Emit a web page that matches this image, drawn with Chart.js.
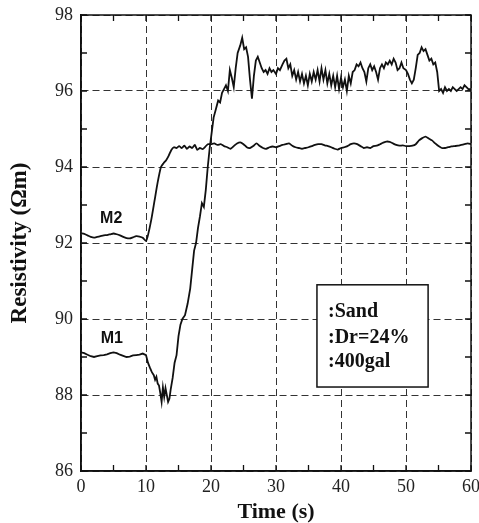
<!DOCTYPE html>
<html>
<head>
<meta charset="utf-8">
<script src="https://cdn.jsdelivr.net/npm/chart.js@4/dist/chart.umd.min.js"></script>
<style>
  html, body { margin: 0; padding: 0; background: #fff; }
  #c { display: block; }
</style>
</head>
<body>
<canvas id="c" width="479" height="523"></canvas>
<script>
// ---- data ----
const m1Time = [0,0.5,1,1.5,2,2.5,3,3.5,4,4.5,5,5.5,6,6.5,7,7.5,8,8.5,9,9.5,10,
  10.3,10.6,10.9,11.2,11.4,11.6,11.8,12.0,12.2,12.4,12.6,12.8,13.0,13.2,13.4,13.6,13.8,
  14.1,14.4,14.7,15.0,15.3,15.6,16.0,16.4,16.8,17.1,17.4,17.7,18.0,18.3,18.6,18.9,19.2,19.5,19.8,
  20.1,20.4,20.8,21.1,21.4,21.7,22.0,22.3,22.6,22.9,23.2,23.5,23.8,24.1,24.5,24.8,25.1,25.4,25.7,
  26.0,26.3,26.6,26.9,27.2,27.5,27.8,28.1,28.4,28.7,29.0,29.3,29.6,30.0,30.3,30.6,31.0,31.3,31.6,
  31.9,32.2,32.5,32.8,33.1,33.4,33.7,34.0,34.3,34.6,34.9,35.2,35.5,35.8,36.1,36.4,36.7,37.0,37.3,
  37.6,37.9,38.2,38.5,38.8,39.1,39.4,39.7,40.0,40.3,40.6,40.9,41.2,41.5,41.8,42.1,42.4,42.7,43.0,
  43.3,43.6,43.9,44.2,44.5,44.8,45.1,45.4,45.7,46.0,46.3,46.6,46.9,47.2,47.5,47.8,48.1,48.4,48.7,
  49.0,49.3,49.6,50.0,50.3,50.6,50.9,51.2,51.5,51.8,52.1,52.4,52.7,53.0,53.3,53.6,53.9,54.2,54.5,
  54.8,55.1,55.4,55.7,56.0,56.3,56.6,56.9,57.2,57.5,57.8,58.1,58.4,58.7,59.0,59.3,59.6,60.0];
const m1Value = [89.12,89.10,89.06,89.02,89.00,89.02,89.04,89.05,89.07,89.10,89.12,89.10,89.06,89.03,89.00,89.01,89.04,89.05,89.06,89.09,89.05,
  88.85,88.72,88.60,88.52,88.40,88.48,88.30,88.25,88.05,87.82,88.20,87.95,88.18,88.00,87.82,87.90,88.15,
  88.45,88.85,89.05,89.55,89.85,90.00,90.10,90.40,90.80,91.30,91.80,92.00,92.40,92.70,93.05,92.95,93.40,94.00,94.50,
  94.90,95.30,95.55,95.75,95.70,95.95,96.05,96.15,96.00,96.55,96.35,96.10,96.60,97.00,97.20,97.40,97.10,97.15,96.90,
  96.30,95.80,96.40,96.80,96.90,96.75,96.60,96.50,96.55,96.45,96.60,96.50,96.55,96.45,96.60,96.55,96.70,96.80,96.85,
  96.60,96.70,96.40,96.55,96.30,96.50,96.25,96.45,96.20,96.40,96.15,96.45,96.25,96.50,96.30,96.55,96.25,96.60,96.30,
  96.55,96.20,96.45,96.15,96.40,96.10,96.40,96.05,96.35,96.10,96.30,96.00,96.40,96.20,96.50,96.55,96.70,96.65,96.75,
  96.60,96.50,96.25,96.60,96.70,96.55,96.65,96.50,96.30,96.60,96.70,96.60,96.75,96.70,96.80,96.70,96.85,96.75,96.55,
  96.60,96.75,96.60,96.55,96.45,96.30,96.20,96.30,96.60,96.95,97.00,97.15,97.05,97.10,96.95,96.80,96.85,96.70,96.75,
  96.50,96.00,96.05,95.95,96.10,96.00,96.05,96.00,96.10,96.05,96.00,96.05,96.10,96.05,96.15,96.10,96.05,96.05];

const m2Time = [0,0.5,1,1.5,2,2.5,3,3.5,4,4.5,5,5.5,6,6.5,7,7.5,8,8.5,9,9.5,10,
  10.3,10.8,11.3,11.8,12.3,12.7,13.1,13.5,13.9,14.3,14.7,15.1,15.5,15.9,16.3,16.7,17.1,17.5,17.9,18.3,18.7,19.1,19.5,
  20,20.5,21,21.5,22,22.5,23,23.5,24,24.5,25,25.5,26,26.5,27,27.5,28,28.5,29,29.5,30,30.5,31,31.5,32,32.5,33,33.5,
  34,34.5,35,35.5,36,36.5,37,37.5,38,38.5,39,39.5,40,40.5,41,41.5,42,42.5,43,43.5,44,44.5,45,45.5,46,46.5,47,47.5,
  48,48.5,49,49.5,50,50.5,51,51.5,52,52.5,53,53.5,54,54.5,55,55.5,56,56.5,57,57.5,58,58.5,59,59.5,60];
const m2Value = [92.26,92.24,92.20,92.16,92.14,92.16,92.18,92.20,92.21,92.23,92.25,92.23,92.20,92.16,92.13,92.12,92.15,92.18,92.17,92.14,92.05,
  92.20,92.60,93.10,93.60,94.00,94.10,94.18,94.30,94.45,94.52,94.50,94.55,94.50,94.56,94.48,94.54,94.50,94.58,94.45,94.50,94.47,94.53,94.60,
  94.60,94.62,94.58,94.60,94.55,94.52,94.48,94.55,94.62,94.65,94.60,94.52,94.50,94.55,94.62,94.55,94.50,94.48,94.52,94.54,94.52,94.55,94.58,94.60,94.62,94.56,94.52,94.50,
  94.48,94.50,94.52,94.55,94.58,94.60,94.60,94.57,94.55,94.52,94.48,94.46,94.50,94.52,94.55,94.60,94.62,94.60,94.55,94.50,94.52,94.50,94.55,94.56,94.60,94.64,94.67,94.66,
  94.62,94.58,94.56,94.57,94.55,94.55,94.56,94.60,94.70,94.76,94.80,94.75,94.70,94.62,94.55,94.50,94.50,94.52,94.54,94.55,94.56,94.58,94.60,94.62,94.60];

const xTickValues = [0,10,20,30,40,50,60];
const yTickValues = [86,88,90,92,94,96,98];
const xMinorTicks = [0,5,10,15,20,25,30,35,40,45,50,55,60];
const yMinorTicks = [86,87,88,89,90,91,92,93,94,95,96,97,98];

const seriesLabels = [
  { text: 'M2', x: 4.65, y: 92.64 },
  { text: 'M1', x: 4.75, y: 89.48 }
];
const legendLines = [':Sand', ':Dr=24%', ':400gal'];
const legendBox = { x0: 36.3, x1: 53.4, y0: 90.9, y1: 88.21, textX: 38.0, lineY: [90.18, 89.50, 88.87] };

// ---- chart ----
const serif = "'Liberation Serif','Times New Roman',serif";
const ink = '#111';

const inwardTicks = {
  id: 'inwardTicks',
  afterDatasetsDraw(chart) {
    const { ctx, chartArea: a, scales: { x, y } } = chart;
    ctx.save();
    // legend box (white, covering the grid)
    const bx0 = x.getPixelForValue(legendBox.x0), bx1 = x.getPixelForValue(legendBox.x1);
    const by0 = y.getPixelForValue(legendBox.y0), by1 = y.getPixelForValue(legendBox.y1);
    ctx.fillStyle = '#fff';
    ctx.fillRect(bx0, by0, bx1 - bx0, by1 - by0);
    ctx.strokeStyle = ink;
    ctx.lineWidth = 1.5;
    ctx.strokeRect(bx0, by0, bx1 - bx0, by1 - by0);
    ctx.fillStyle = ink;
    ctx.font = "bold 20px " + serif;
    ctx.textAlign = 'left';
    ctx.textBaseline = 'middle';
    legendLines.forEach((t, i) => {
      ctx.fillText(t, x.getPixelForValue(legendBox.textX), y.getPixelForValue(legendBox.lineY[i]));
    });
    // series labels
    ctx.font = "bold 16px 'Liberation Sans', Arial, sans-serif";
    ctx.textAlign = 'center';
    seriesLabels.forEach(l => {
      ctx.fillText(l.text, x.getPixelForValue(l.x), y.getPixelForValue(l.y));
    });
    // frame
    ctx.strokeStyle = ink;
    ctx.lineWidth = 1.5;
    ctx.strokeRect(a.left, a.top, a.right - a.left, a.bottom - a.top);
    // inward ticks
    ctx.lineWidth = 1.3;
    ctx.beginPath();
    const L = 6;
    xMinorTicks.forEach(v => {
      const px = x.getPixelForValue(v);
      ctx.moveTo(px, a.bottom); ctx.lineTo(px, a.bottom - L);
      ctx.moveTo(px, a.top); ctx.lineTo(px, a.top + L);
    });
    yMinorTicks.forEach(v => {
      const py = y.getPixelForValue(v);
      ctx.moveTo(a.left, py); ctx.lineTo(a.left + L, py);
      ctx.moveTo(a.right, py); ctx.lineTo(a.right - L, py);
    });
    ctx.stroke();
    ctx.restore();
  }
};

new Chart(document.getElementById('c'), {
  type: 'line',
  data: {
    datasets: [
      { label: 'M1', data: m1Time.map((t, i) => ({ x: t, y: m1Value[i] })),
        borderColor: ink, borderWidth: 1.8, pointRadius: 0, tension: 0, fill: false },
      { label: 'M2', data: m2Time.map((t, i) => ({ x: t, y: m2Value[i] })),
        borderColor: ink, borderWidth: 1.8, pointRadius: 0, tension: 0.2, fill: false }
    ]
  },
  options: {
    responsive: false,
    animation: false,
    devicePixelRatio: 1,
    layout: { padding: { top: 15, right: 8, bottom: 0, left: 0 } },
    plugins: { legend: { display: false }, tooltip: { enabled: false } },
    scales: {
      x: {
        type: 'linear', min: 0, max: 60,
        afterBuildTicks(s) { s.ticks = xTickValues.map(v => ({ value: v })); },
        afterFit(s) { s.height = 52; s.paddingLeft = 0; s.paddingRight = 0; },
        ticks: { font: { family: serif, size: 18 }, color: '#222', padding: 5, maxRotation: 0, autoSkip: false },
        grid: { color: '#333', lineWidth: 1, drawTicks: false },
        border: { display: true, color: ink, width: 1.5, dash: [7, 4] },
        title: { display: true, text: 'Time (s)', color: ink,
          font: { family: serif, size: 22, weight: 'bold', lineHeight: 1 }, padding: { top: 0, bottom: 0 } }
      },
      y: {
        type: 'linear', min: 86, max: 98,
        afterBuildTicks(s) { s.ticks = yTickValues.map(v => ({ value: v })); },
        afterFit(s) { s.width = 81; s.paddingTop = 0; s.paddingBottom = 0; },
        ticks: { font: { family: serif, size: 18 }, color: '#222', padding: 8 },
        grid: { color: '#333', lineWidth: 1, drawTicks: false },
        border: { display: true, color: ink, width: 1.5, dash: [7, 4] },
        title: { display: true, text: 'Resistivity (Ωm)', color: ink,
          font: { family: serif, size: 23, weight: 'bold', lineHeight: 1 }, padding: { top: 9, bottom: 0 } }
      }
    }
  },
  plugins: [inwardTicks]
});
</script>
</body>
</html>
